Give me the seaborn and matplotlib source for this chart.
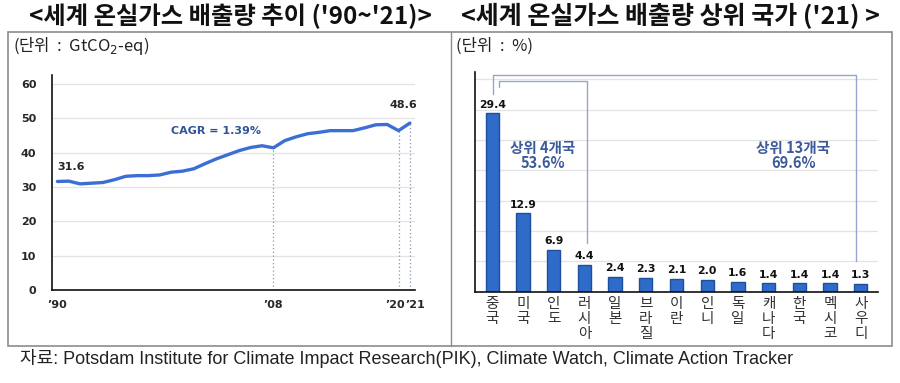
import numpy as np
import pandas as pd
import seaborn as sns
import matplotlib.pyplot as plt
from matplotlib import font_manager
from matplotlib.patches import Rectangle
from matplotlib.transforms import ScaledTranslation

# Left panel: world GHG emissions (GtCO2-eq)
years = list(range(1990, 2022))
emissions = [31.6, 31.7, 30.9, 31.1, 31.3, 32.1, 33.1, 33.3, 33.3, 33.5,
             34.3, 34.6, 35.3, 36.8, 38.2, 39.4, 40.6, 41.5, 42.0, 41.4,
             43.5, 44.6, 45.5, 45.9, 46.4, 46.4, 46.4, 47.2, 48.1, 48.2,
             46.4, 48.6]
year_ticks = [1990, 2009, 2020, 2021]
year_labels = ["’90", "’08", "’20", "’21"]
marked_years = [2009, 2020, 2021]

# Right panel: top emitting countries share (%)
countries = ["중국", "미국", "인도", "러시아", "일본", "브라질", "이란",
             "인니", "독일", "캐나다", "한국", "멕시코", "사우디"]
shares = [29.4, 12.9, 6.9, 4.4, 2.4, 2.3, 2.1, 2.0, 1.6, 1.4, 1.4, 1.4, 1.3]

sns.set_theme(style="white")
installed = {f.name for f in font_manager.fontManager.ttflist}
kr = "Noto Sans CJK KR"
narrow = "Liberation Sans Narrow" if "Liberation Sans Narrow" in installed else "Liberation Sans"
plt.rcParams['font.family'] = [kr, 'DejaVu Sans']

W, H = 900, 383
fig = plt.figure(figsize=(9, 3.83), dpi=100)

def fx(px):
    return px / W

def fy(py):
    return 1 - py / H

# outer frame and divider
fig.patches.append(Rectangle((fx(8), fy(346)), fx(892 - 8), (346 - 32) / H,
                             transform=fig.transFigure, fill=False,
                             edgecolor="#8c8c8c", lw=1.2))
fig.add_artist(plt.Line2D([fx(451), fx(451)], [fy(32), fy(346)],
                          transform=fig.transFigure, color="#8c8c8c", lw=1.0))

# titles
fig.text(fx(230), fy(16), "<세계 온실가스 배출량 추이 ('90~'21)>", ha="center",
         va="center", fontsize=17.5, fontweight="bold", color="#111111")
fig.text(fx(670), fy(16), "<세계 온실가스 배출량 상위 국가 ('21) >", ha="center",
         va="center", fontsize=18, fontweight="bold", color="#111111")
fig.text(fx(13), fy(46), "(단위  :  GtCO$_2$-eq)", ha="left", va="center",
         fontsize=12, color="#222222")
fig.text(fx(456), fy(46), "(단위  :  %)", ha="left", va="center",
         fontsize=12, color="#222222")
fig.text(fx(20), fy(359),
         "자료: Potsdam Institute for Climate Impact Research(PIK), Climate Watch, Climate Action Tracker",
         ha="left", va="center", fontsize=13, color="#222222",
         family=[narrow, kr])

# ---- left line chart ----
ax1 = fig.add_axes([fx(51.7), fy(290), fx(415 - 51.7), (290 - 75) / H])
df_line = pd.DataFrame({"year": years, "value": emissions})
sns.lineplot(data=df_line, x="year", y="value", ax=ax1, color="#3b6fd4", lw=2.4)
ax1.set_xlim(1989.5, 2021.45)
ax1.set_ylim(0, 62.6)
ax1.set_yticks(range(0, 61, 10))
ax1.yaxis.grid(True, color="#e3e3e3", lw=0.9)
ax1.set_axisbelow(True)
for s in ["top", "right"]:
    ax1.spines[s].set_visible(False)
for s in ["left", "bottom"]:
    ax1.spines[s].set_color("#111111")
    ax1.spines[s].set_linewidth(1.2)
ax1.set_xticks(year_ticks)
ax1.set_xticklabels(year_labels)
ax1.tick_params(axis="both", length=0, labelsize=8, pad=7)
ax1.tick_params(axis="y", pad=11)
for t in ax1.get_xticklabels() + ax1.get_yticklabels():
    t.set_fontweight("bold")
    t.set_family("DejaVu Sans")
# nudge the crowded '20 / '21 labels apart a little
xt = ax1.get_xticklabels()
xt[2].set_transform(xt[2].get_transform() + ScaledTranslation(-3 / 100, 0, fig.dpi_scale_trans))
xt[3].set_transform(xt[3].get_transform() + ScaledTranslation(5 / 100, 0, fig.dpi_scale_trans))
ax1.set_xlabel("")
ax1.set_ylabel("")
for yr in marked_years:
    v = emissions[years.index(yr)]
    ax1.plot([yr, yr], [0, v], ls=(0, (1, 2)), color="#8494b4", lw=0.9, zorder=1)
ax1.text(years[0], emissions[0] + 4.3, f"{emissions[0]}", fontsize=8,
         fontweight="bold", family="DejaVu Sans", ha="left", va="center")
ax1.text(years[-1] - 0.6, emissions[-1] + 5.3, f"{emissions[-1]}", fontsize=8,
         fontweight="bold", family="DejaVu Sans", ha="center", va="center")
ax1.text(2000, 46.3, "CAGR = 1.39%", fontsize=8, fontweight="bold",
         family="DejaVu Sans", color="#2f5597", ha="left", va="center")

# ---- right bar chart ----
ax2 = fig.add_axes([fx(475), fy(291.7), fx(878 - 475), (291.7 - 71.7) / H])
df_bar = pd.DataFrame({"country": countries, "share": shares})
sns.barplot(data=df_bar, x="country", y="share", ax=ax2, color="#2f6bc9",
            width=0.43, edgecolor="#1d4f9c", linewidth=1.0, saturation=1)
ax2.set_xlim(-0.56, 12.56)
ax2.set_ylim(0, 36.25)
ax2.set_yticks(range(5, 36, 5))
ax2.set_yticklabels([])
ax2.yaxis.grid(True, color="#e3e3e3", lw=0.9)
ax2.set_axisbelow(True)
for s in ["top", "right"]:
    ax2.spines[s].set_visible(False)
for s in ["left", "bottom"]:
    ax2.spines[s].set_color("#111111")
    ax2.spines[s].set_linewidth(1.2)
ax2.set_xticks(range(len(countries)))
ax2.set_xticklabels(["\n".join(c) for c in countries], fontsize=10.5,
                    color="#333333", linespacing=1.1)
ax2.tick_params(axis="both", length=0, pad=4)
ax2.set_xlabel("")
ax2.set_ylabel("")
for i, v in enumerate(shares):
    ax2.text(i, v + 0.6, f"{v}", ha="center", va="bottom", fontsize=7.8,
             fontweight="bold", family="DejaVu Sans", color="#111111")

# brackets
bcol = "#94a6c9"
ax2.plot([0.22, 0.22, 3.1, 3.1], [33.7, 34.76, 34.76, 8.0], color=bcol,
         lw=1.0, clip_on=False)
ax2.plot([0.01, 0.01, 11.86, 11.86], [32.6, 35.65, 35.65, 5.1], color=bcol,
         lw=1.0, clip_on=False)
ax2.text(1.65, 22.4, "상위 4개국\n53.6%", ha="center", va="center", fontsize=10.5,
         fontweight="bold", color="#3d5a9a", linespacing=0.95)
ax2.text(9.8, 22.4, "상위 13개국\n69.6%", ha="center", va="center", fontsize=10.5,
         fontweight="bold", color="#3d5a9a", linespacing=0.95)

fig.savefig("out.png", dpi=100)
